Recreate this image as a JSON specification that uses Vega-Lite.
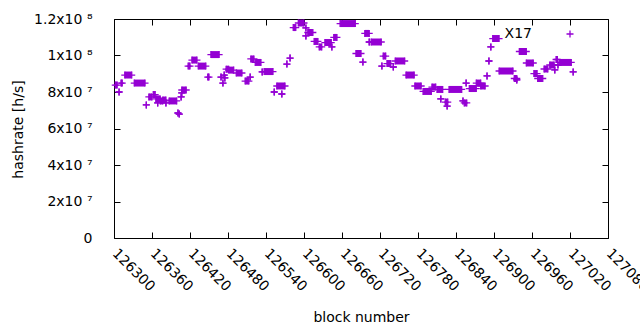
{
  "$schema": "https://vega.github.io/schema/vega-lite/v6.json",
  "width": 494,
  "height": 219,
  "autosize": {"type": "none"},
  "padding": {"left": 114, "top": 19, "right": 32, "bottom": 92},
  "background": "white",
  "config": {
    "font": "DejaVu Sans",
    "view": {"stroke": "black", "strokeWidth": 1},
    "axis": {"grid": false, "domain": false, "tickColor": "black", "tickSize": -6, "labelColor": "#000", "titleColor": "#000", "titleFontWeight": "normal", "labelFont": "DejaVu Sans", "titleFont": "DejaVu Sans"}
  },
  "data": {"values": [
    {"s": 126302, "e": 126305, "h": 83.8e6},
    {"s": 126311, "e": 126313, "h": 84.9e6},
    {"s": 126308, "e": 126308, "h": 80.0e6},
    {"s": 126317, "e": 126328, "h": 89.3e6},
    {"s": 126332, "e": 126349, "h": 84.9e6},
    {"s": 126351, "e": 126351, "h": 72.9e6},
    {"s": 126355, "e": 126360, "h": 77.3e6},
    {"s": 126362, "e": 126365, "h": 78.6e6},
    {"s": 126366, "e": 126373, "h": 76.2e6},
    {"s": 126373, "e": 126377, "h": 75.1e6},
    {"s": 126369, "e": 126369, "h": 74.0e6},
    {"s": 126377, "e": 126382, "h": 75.6e6},
    {"s": 126382, "e": 126382, "h": 74.0e6},
    {"s": 126387, "e": 126399, "h": 75.1e6},
    {"s": 126401, "e": 126401, "h": 68.5e6},
    {"s": 126403, "e": 126403, "h": 67.9e6},
    {"s": 126406, "e": 126406, "h": 77.3e6},
    {"s": 126407, "e": 126407, "h": 79.5e6},
    {"s": 126407, "e": 126414, "h": 81.1e6},
    {"s": 126417, "e": 126420, "h": 94.2e6},
    {"s": 126423, "e": 126431, "h": 97.5e6},
    {"s": 126433, "e": 126445, "h": 94.2e6},
    {"s": 126448, "e": 126450, "h": 88.2e6},
    {"s": 126453, "e": 126466, "h": 100.5e6},
    {"s": 126469, "e": 126469, "h": 88.2e6},
    {"s": 126472, "e": 126472, "h": 84.9e6},
    {"s": 126474, "e": 126474, "h": 89.3e6},
    {"s": 126475, "e": 126475, "h": 87.7e6},
    {"s": 126477, "e": 126481, "h": 92.5e6},
    {"s": 126481, "e": 126489, "h": 92.0e6},
    {"s": 126493, "e": 126502, "h": 90.4e6},
    {"s": 126507, "e": 126513, "h": 86.0e6},
    {"s": 126515, "e": 126515, "h": 88.2e6},
    {"s": 126516, "e": 126521, "h": 98.1e6},
    {"s": 126523, "e": 126532, "h": 96.2e6},
    {"s": 126534, "e": 126534, "h": 91.0e6},
    {"s": 126537, "e": 126551, "h": 91.2e6},
    {"s": 126553, "e": 126553, "h": 80.0e6},
    {"s": 126557, "e": 126570, "h": 83.3e6},
    {"s": 126565, "e": 126565, "h": 78.9e6},
    {"s": 126573, "e": 126573, "h": 95.3e6},
    {"s": 126578, "e": 126578, "h": 98.6e6},
    {"s": 126583, "e": 126587, "h": 115.3e6},
    {"s": 126591, "e": 126600, "h": 117.8e6},
    {"s": 126603, "e": 126603, "h": 115.1e6},
    {"s": 126603, "e": 126603, "h": 110.7e6},
    {"s": 126606, "e": 126614, "h": 112.6e6},
    {"s": 126616, "e": 126622, "h": 107.7e6},
    {"s": 126624, "e": 126628, "h": 104.7e6},
    {"s": 126633, "e": 126643, "h": 107.1e6},
    {"s": 126644, "e": 126644, "h": 104.7e6},
    {"s": 126647, "e": 126652, "h": 109.9e6},
    {"s": 126657, "e": 126681, "h": 117.5e6},
    {"s": 126682, "e": 126690, "h": 101.1e6},
    {"s": 126693, "e": 126693, "h": 96.4e6},
    {"s": 126696, "e": 126703, "h": 112.1e6},
    {"s": 126703, "e": 126703, "h": 107.4e6},
    {"s": 126706, "e": 126722, "h": 107.4e6},
    {"s": 126723, "e": 126723, "h": 94.2e6},
    {"s": 126725, "e": 126729, "h": 99.7e6},
    {"s": 126731, "e": 126737, "h": 95.6e6},
    {"s": 126741, "e": 126741, "h": 93.7e6},
    {"s": 126744, "e": 126759, "h": 97.0e6},
    {"s": 126761, "e": 126774, "h": 89.3e6},
    {"s": 126775, "e": 126785, "h": 83.3e6},
    {"s": 126788, "e": 126801, "h": 80.3e6},
    {"s": 126802, "e": 126808, "h": 82.7e6},
    {"s": 126810, "e": 126819, "h": 81.4e6},
    {"s": 126816, "e": 126816, "h": 76.2e6},
    {"s": 126823, "e": 126827, "h": 74.5e6},
    {"s": 126826, "e": 126826, "h": 72.3e6},
    {"s": 126829, "e": 126849, "h": 81.4e6},
    {"s": 126851, "e": 126851, "h": 75.1e6},
    {"s": 126853, "e": 126857, "h": 74.0e6},
    {"s": 126856, "e": 126856, "h": 84.9e6},
    {"s": 126861, "e": 126872, "h": 81.9e6},
    {"s": 126872, "e": 126879, "h": 84.9e6},
    {"s": 126879, "e": 126886, "h": 83.3e6},
    {"s": 126889, "e": 126889, "h": 88.8e6},
    {"s": 126892, "e": 126892, "h": 97.0e6},
    {"s": 126895, "e": 126895, "h": 104.7e6},
    {"s": 126898, "e": 126908, "h": 109.3e6},
    {"s": 126908, "e": 126930, "h": 91.5e6},
    {"s": 126932, "e": 126936, "h": 87.4e6},
    {"s": 126936, "e": 126936, "h": 86.6e6},
    {"s": 126940, "e": 126951, "h": 102.2e6},
    {"s": 126951, "e": 126962, "h": 95.9e6},
    {"s": 126963, "e": 126968, "h": 90.1e6},
    {"s": 126969, "e": 126977, "h": 87.4e6},
    {"s": 126979, "e": 126985, "h": 92.6e6},
    {"s": 126988, "e": 126995, "h": 94.8e6},
    {"s": 126996, "e": 126996, "h": 92.1e6},
    {"s": 126998, "e": 127000, "h": 97.8e6},
    {"s": 127001, "e": 127001, "h": 94.8e6},
    {"s": 127003, "e": 127022, "h": 96.2e6},
    {"s": 127025, "e": 127025, "h": 91.0e6}
  ]},
  "resolve": {"axis": {"x": "independent", "y": "independent"}},
  "layer": [
    {
      "mark": {"type": "rule", "color": "#9400D3", "strokeWidth": 7, "strokeCap": "butt"},
      "encoding": {
        "x": {"field": "s", "type": "quantitative",
          "scale": {"domain": [126300, 127080], "nice": false, "zero": false},
          "axis": {"values": [126300,126360,126420,126480,126540,126600,126660,126720,126780,126840,126900,126960,127020,127080],
            "format": "d", "labelAngle": 45, "labelAlign": "left", "labelBaseline": "middle", "labelPadding": 19, "labelFontSize": 14,
            "labelOverlap": false, "labelFlush": false,
            "title": "block number", "titleFontSize": 14, "titleY": 83, "titleBaseline": "alphabetic"}},
        "x2": {"field": "e"},
        "y": {"field": "h", "type": "quantitative",
          "scale": {"domain": [0, 120000000], "nice": false},
          "axis": {"values": [0, 20000000, 40000000, 60000000, 80000000, 100000000, 120000000],
            "labelExpr": "datum.value == 0 ? '0' : datum.value == 20000000 ? '2x10 ⁷' : datum.value == 40000000 ? '4x10 ⁷' : datum.value == 60000000 ? '6x10 ⁷' : datum.value == 80000000 ? '8x10 ⁷' : datum.value == 100000000 ? '1x10 ⁸' : '1.2x10 ⁸'",
            "labelFontSize": 14, "labelPadding": 28,
            "title": "hashrate [h/s]", "titleFontSize": 14, "titleX": -92, "titleY": 110, "titleBaseline": "alphabetic", "titleAlign": "center", "titleAngle": -90}}
      }
    },
    {
      "mark": {"type": "point", "shape": "M-1,0H1M0,-1V1", "size": 49, "strokeWidth": 1.3, "filled": false, "opacity": 1},
      "encoding": {
        "x": {"field": "s", "type": "quantitative", "axis": {"orient": "top", "labels": false, "title": null, "values": [126300,126360,126420,126480,126540,126600,126660,126720,126780,126840,126900,126960,127020,127080]}},
        "y": {"field": "h", "type": "quantitative", "axis": {"orient": "right", "labels": false, "title": null, "values": [0, 20000000, 40000000, 60000000, 80000000, 100000000, 120000000]}},
        "color": {"datum": "X17", "scale": {"range": ["#9400D3"]},
          "legend": {"title": null, "orient": "none", "legendX": 449, "legendY": 8, "labelFontSize": 14, "labelFont": "DejaVu Sans", "labelAlign": "right", "labelOffset": -45, "symbolType": "M-1,0H1M0,-1V1", "symbolSize": 49, "symbolStrokeWidth": 1.3, "symbolStrokeColor": "#9400D3", "symbolFillColor": "transparent", "padding": 0, "labelColor": "#000"}}
      }
    },
    {
      "mark": {"type": "point", "shape": "M-1,0H1M0,-1V1", "size": 49, "strokeWidth": 1.3, "filled": false, "opacity": 1, "color": "#9400D3"},
      "encoding": {
        "x": {"field": "e", "type": "quantitative", "axis": null},
        "y": {"field": "h", "type": "quantitative", "axis": null}
      }
    }
  ]
}
